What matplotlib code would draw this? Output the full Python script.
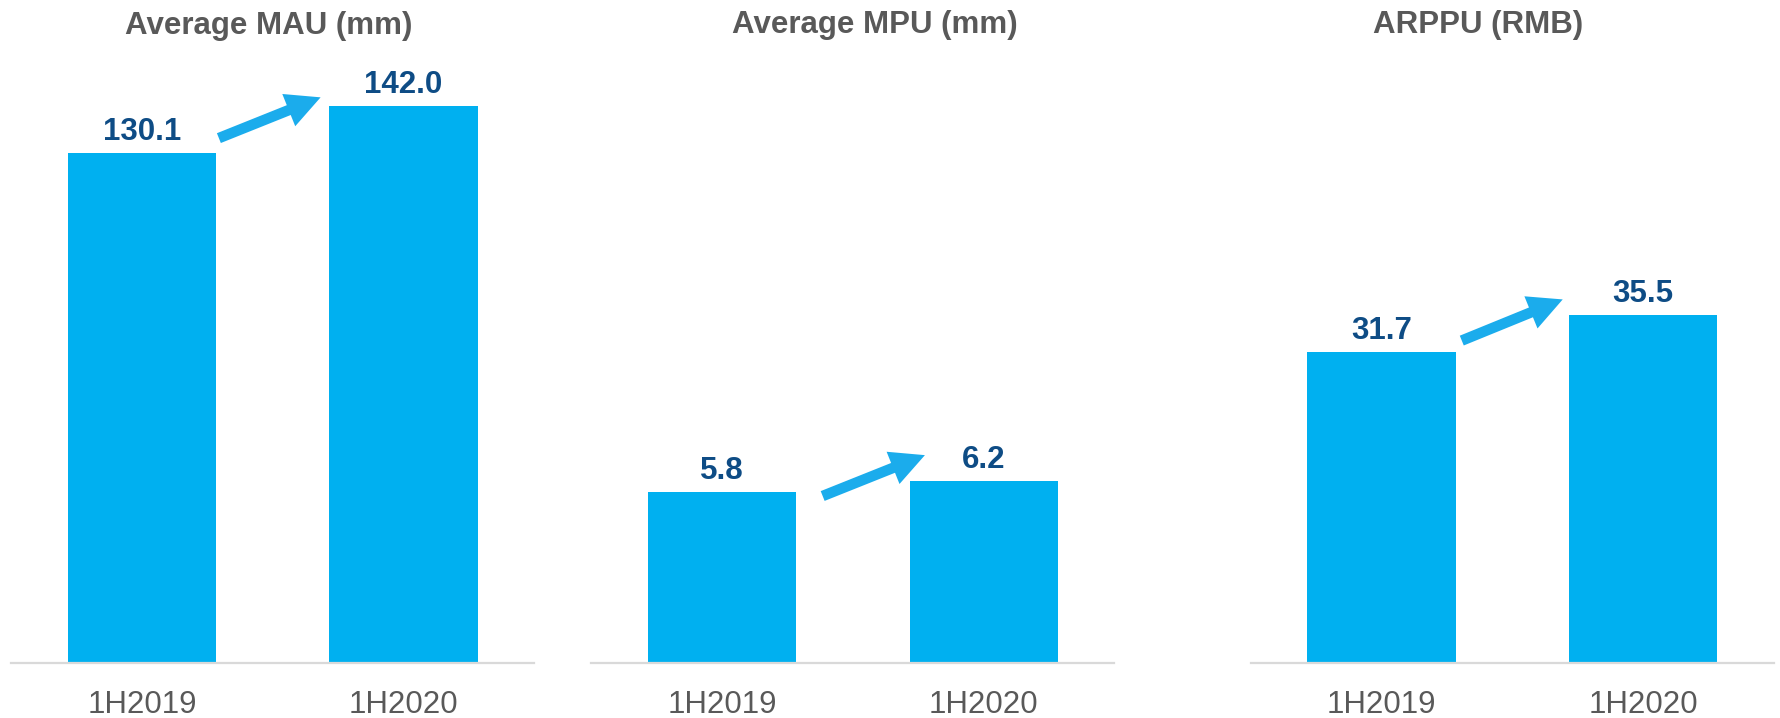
import matplotlib
matplotlib.use("Agg")
import matplotlib.pyplot as plt
from matplotlib.patches import FancyArrowPatch

plt.rcParams['font.family'] = ['Liberation Sans', 'DejaVu Sans']

# data
periods = ["1H2019", "1H2020"]
titles = ["Average MAU (mm)", "Average MPU (mm)", "ARPPU (RMB)"]
mau = [130.1, 142.0]
mpu = [5.8, 6.2]
arppu = [31.7, 35.5]
series = [mau, mpu, arppu]
ymax = [150, 20, 60]

# growth arrows (tail, tip) in data coords of each panel
arrows = [((0.294, 133.9), (0.683, 144.3)),
          ((0.384, 5.68), (0.775, 7.07)),
          ((0.307, 32.9), (0.693, 37.1))]

bar_color = "#00B0F0"
arrow_color = "#1BACEC"
label_color = "#0E4C85"
text_gray = "#595959"

W, H = 1781, 718
fig = plt.figure(figsize=(W / 100, H / 100), dpi=100)

lefts = [11.25, 591.5, 1250.75]
title_x = [269, 875, 1478]
title_y = [34, 33, 33]

for i in range(3):
    ax = fig.add_axes([lefts[i] / W, 55 / H, 523 / W, 588 / H])
    vals = series[i]
    x = range(len(periods))
    ax.bar(x, vals, width=0.566, color=bar_color)
    ax.set_xlim(-0.5, 1.5)
    ax.set_ylim(0, ymax[i])
    for xi, v in zip(x, vals):
        ax.annotate(f"{v:.1f}", (xi, v), xytext=(0, 9.4), textcoords="offset points",
                    ha="center", va="baseline", fontsize=22.5, fontweight="bold",
                    color=label_color)
    for s in ["top", "left", "right"]:
        ax.spines[s].set_visible(False)
    ax.spines["bottom"].set_color("#D9D9D9")
    ax.spines["bottom"].set_linewidth(1.6)
    ax.set_yticks([])
    ax.set_xticks(list(x))
    ax.set_xticklabels(periods, fontsize=22.5, color=text_gray)
    ax.tick_params(axis="x", length=0, pad=19.5)

    tail, tip = arrows[i]
    arr = FancyArrowPatch(tail, tip,
                          arrowstyle="simple,head_length=24.7,head_width=25,tail_width=7.6",
                          mutation_scale=1, shrinkA=0, shrinkB=0,
                          color=arrow_color, lw=0, clip_on=False)
    ax.add_patch(arr)

    fig.text(title_x[i] / W, 1 - title_y[i] / H, titles[i], ha="center", va="baseline",
             fontsize=22.5, fontweight="bold", color=text_gray)

fig.savefig("out.png", dpi=100)
